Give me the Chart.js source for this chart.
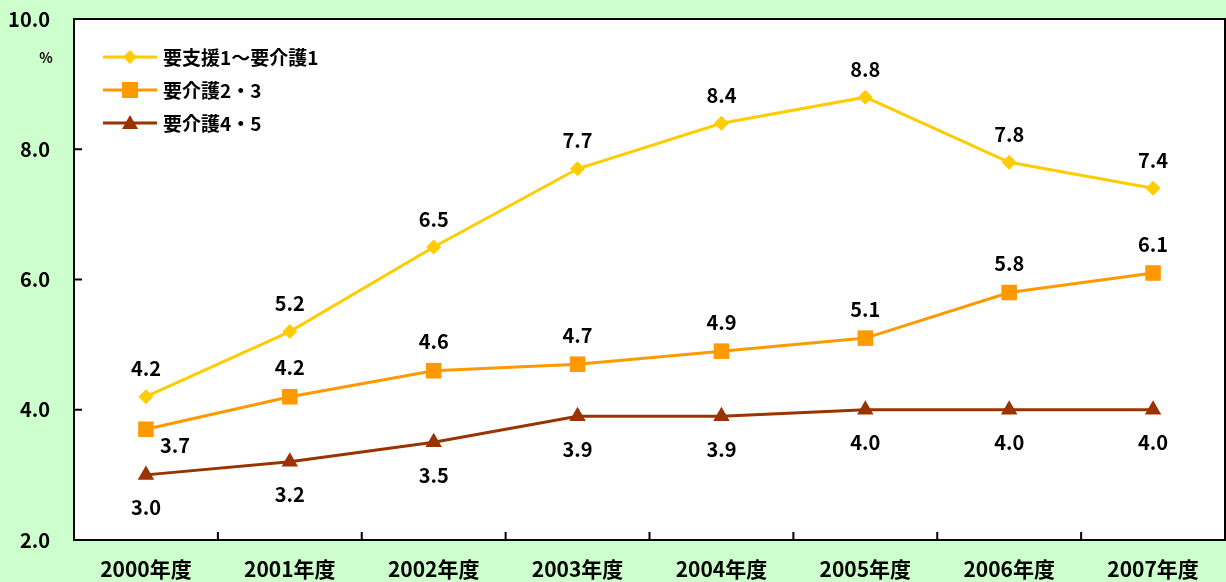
<!DOCTYPE html>
<html><head><meta charset="utf-8">
<script src="https://cdn.jsdelivr.net/npm/chart.js@4/dist/chart.umd.min.js"></script>
<style>html,body{margin:0;padding:0;background:#ccffcc;}#w{width:1226px;height:582px;}</style>
</head><body><div id="w"><canvas id="c" width="1226" height="582"></canvas></div>
<script>
const categories = ["2000年度","2001年度","2002年度","2003年度","2004年度","2005年度","2006年度","2007年度"];
const seriesNames = ["要支援1～要介護1","要介護2・3","要介護4・5"];
const light = [4.2,5.2,6.5,7.7,8.4,8.8,7.8,7.4];
const mid = [3.7,4.2,4.6,4.7,4.9,5.1,5.8,6.1];
const heavy = [3.0,3.2,3.5,3.9,3.9,4.0,4.0,4.0];
const yTicks = [2,4,6,8,10];
const FONT = "'Noto Sans CJK JP','Liberation Sans',sans-serif";

const deco = {
  id:'deco',
  beforeDraw(chart){
    const {ctx, chartArea:a} = chart;
    ctx.save();
    ctx.fillStyle='#ccffcc'; ctx.fillRect(0,0,chart.width,chart.height);
    ctx.fillStyle='#ffffff'; ctx.fillRect(a.left,a.top,a.right-a.left,a.bottom-a.top);
    ctx.restore();
  },
  afterDatasetsDraw(chart){
    const {ctx, chartArea:a, scales} = chart;
    ctx.save();
    ctx.strokeStyle='#000'; ctx.lineWidth=2;
    ctx.strokeRect(a.left,a.top,a.right-a.left,a.bottom-a.top);
    yTicks.forEach(v=>{const y=scales.y.getPixelForValue(v);ctx.beginPath();ctx.moveTo(a.left,y);ctx.lineTo(a.left+8,y);ctx.stroke();});
    const n=categories.length, w=(a.right-a.left)/n;
    for(let i=1;i<n;i++){const x=a.left+i*w;ctx.beginPath();ctx.moveTo(x,a.bottom);ctx.lineTo(x,a.bottom-8);ctx.stroke();}
    ctx.fillStyle='#000'; ctx.font='bold 14px '+FONT; ctx.textAlign='center'; ctx.textBaseline='middle';
    ctx.fillText('%',46,58);
    ctx.font='bold 20px '+FONT;
    chart.data.datasets.forEach((ds,di)=>{
      const meta=chart.getDatasetMeta(di);
      meta.data.forEach((pt,i)=>{
        let x=pt.x,y=pt.y;
        if(di===0){y-=28;}
        else if(di===1){ if(i===0){x+=29;y+=16;} else {y-=29;} }
        else {y+=33;}
        ctx.fillText(ds.data[i].toFixed(1),x,y);
      });
    });
    const items=[{c:'#ffcc00',s:'diamond'},{c:'#ff9900',s:'square'},{c:'#993300',s:'triangle'}];
    items.forEach((it,k)=>{
      const y=57+k*33;
      ctx.strokeStyle=it.c; ctx.lineWidth=3;
      ctx.beginPath();ctx.moveTo(103,y);ctx.lineTo(157,y);ctx.stroke();
      ctx.fillStyle=it.c;
      if(it.s==='diamond'){ctx.beginPath();ctx.moveTo(130,y-7);ctx.lineTo(137,y);ctx.lineTo(130,y+7);ctx.lineTo(123,y);ctx.closePath();ctx.fill();}
      else if(it.s==='square'){ctx.fillRect(122,y-8,16,16);}
      else {ctx.beginPath();ctx.moveTo(130,y-8);ctx.lineTo(138,y+6);ctx.lineTo(122,y+6);ctx.closePath();ctx.fill();}
      ctx.fillStyle='#000'; ctx.textAlign='left'; ctx.font='bold 19px '+FONT;
      ctx.fillText(seriesNames[k],163,y+1);
    });
    ctx.restore();
  }
};

new Chart(document.getElementById('c'),{
  type:'line',
  data:{labels:categories,datasets:[
    {label:seriesNames[0],data:light,borderColor:'#ffcc00',backgroundColor:'#ffcc00',borderWidth:3,pointStyle:'rectRot',pointRadius:7.5,pointHoverRadius:7.5,pointBorderWidth:0},
    {label:seriesNames[1],data:mid,borderColor:'#ff9900',backgroundColor:'#ff9900',borderWidth:3,pointStyle:'rect',pointRadius:11,pointHoverRadius:11,pointBorderWidth:0},
    {label:seriesNames[2],data:heavy,borderColor:'#993300',backgroundColor:'#993300',borderWidth:3,pointStyle:'triangle',pointRadius:9.5,pointHoverRadius:9.5,pointBorderWidth:0}
  ]},
  options:{
    responsive:false,animation:false,
    layout:{autoPadding:false,padding:{top:19,right:1,left:0,bottom:0}},
    plugins:{legend:{display:false},tooltip:{enabled:false}},
    scales:{
      x:{offset:true,grid:{display:false},border:{display:false},
         ticks:{color:'#000',font:{family:FONT,size:21,weight:'bold'},padding:8,maxRotation:0},
         afterFit(s){s.height=42;s.paddingLeft=0;s.paddingRight=0;}},
      y:{min:2,max:10,grid:{display:false},border:{display:false},
         afterBuildTicks(s){s.ticks=yTicks.map(v=>({value:v}));},
         ticks:{color:'#000',font:{family:FONT,size:20,weight:'bold'},padding:16,callback:v=>v.toFixed(1)},
         afterFit(s){s.width=74;s.paddingTop=0;s.paddingBottom=0;}}
    }
  },
  plugins:[deco]
});
</script></body></html>
